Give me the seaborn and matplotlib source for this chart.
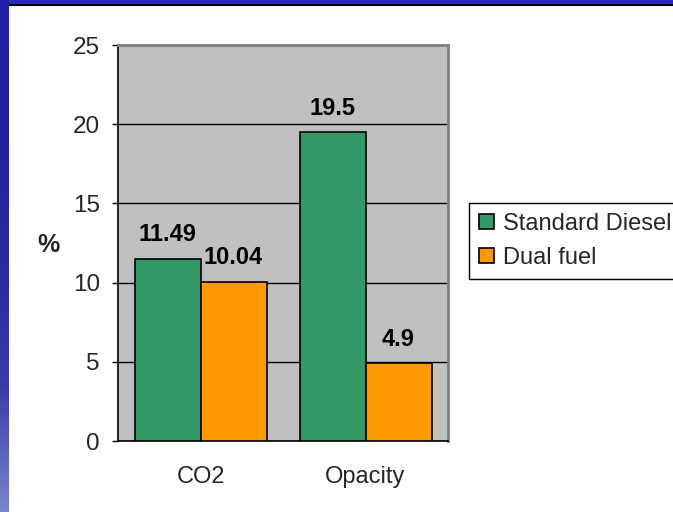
import numpy as np
import pandas as pd
import seaborn as sns
import matplotlib.pyplot as plt
from matplotlib.patches import Rectangle
from matplotlib.colors import LinearSegmentedColormap

# データ
categories = ["CO2", "Opacity"]
series_names = ["Standard Diesel", "Dual fuel"]
standard_diesel = [11.49, 19.5]
dual_fuel = [10.04, 4.9]
value_labels = [["11.49", "19.5"], ["10.04", "4.9"]]
y_ticks = [0, 5, 10, 15, 20, 25]

df = pd.DataFrame({
    "category": categories * 2,
    "series": [series_names[0]] * 2 + [series_names[1]] * 2,
    "value": standard_diesel + dual_fuel,
})

sns.set_theme(style="white")
plt.rcParams['font.family'] = ['Liberation Sans', 'DejaVu Sans']

W, H = 673, 512
fig = plt.figure(figsize=(W / 100, H / 100), dpi=100)
fig.patch.set_facecolor('#2a2ab8')

# 左端の青いグラデーション
grad_ax = fig.add_axes([0, 0, 9 / W, 1])
cmap = LinearSegmentedColormap.from_list("edge", ["#2222a8", "#22229c", "#2a2aa0", "#3a3aa8", "#7c84cc"])
grad_ax.imshow(np.linspace(0, 1, 256).reshape(-1, 1), aspect='auto', cmap=cmap)
grad_ax.axis('off')

# 白いパネル
fig.patches.append(Rectangle((8 / W, -0.01), 1, 1 - 5 / H + 0.01, transform=fig.transFigure,
                             facecolor='white', edgecolor='black', linewidth=1.5, zorder=-5))

ax = fig.add_axes([118 / W, 1 - 441 / H, 330 / W, 396 / H])
ax.set_facecolor('#c0c0c0')

sns.barplot(data=df, x="category", y="value", hue="series", order=categories,
            hue_order=series_names, palette=["#339966", "#ff9900"], saturation=1,
            edgecolor='black', linewidth=1.2, width=0.8, ax=ax, zorder=3)

for cont, labs in zip(ax.containers, value_labels):
    ax.bar_label(cont, labels=labs, padding=9, fontsize=17, fontweight='bold', color='black')

ax.set_ylim(0, 25)
ax.set_xlim(-0.5, 1.5)
ax.set_yticks(y_ticks)
ax.set_yticklabels([str(t) for t in y_ticks], fontsize=17.5)
ax.yaxis.grid(True, color='black', linewidth=1, zorder=1)
ax.set_axisbelow(True)

ax.set_xticks([0, 1])
ax.set_xticklabels(categories, fontsize=17)
ax.set_xticks([-0.5, 0.5, 1.5], minor=True)
ax.tick_params(axis='x', which='major', length=0, pad=18)
ax.tick_params(axis='x', which='minor', length=5, width=1, color='black', direction='out')
ax.tick_params(axis='y', length=4, width=1, color='black', direction='out', pad=9, left=True)

ax.set_xlabel("")
ax.set_ylabel("%", fontsize=18, fontweight='bold', rotation=0, ha='center', va='center')
ax.yaxis.set_label_coords(-0.212, 0.495)

for side in ['left', 'bottom']:
    ax.spines[side].set_color('black')
    ax.spines[side].set_linewidth(1.2)
for side in ['top', 'right']:
    ax.spines[side].set_color('#808080')
    ax.spines[side].set_linewidth(2)

handles, labels = ax.get_legend_handles_labels()
ax.legend(handles, labels, loc='upper left', bbox_to_anchor=(469 / W, 1 - 203 / H),
          bbox_transform=fig.transFigure, borderaxespad=0, fontsize=17,
          frameon=True, fancybox=False, edgecolor='black', framealpha=1,
          handlelength=0.64, handleheight=0.64, handletextpad=0.38,
          labelspacing=0.5, borderpad=0.42)
ax.get_legend().get_frame().set_linewidth(1)

fig.savefig("out.png", dpi=100, facecolor=fig.get_facecolor())
